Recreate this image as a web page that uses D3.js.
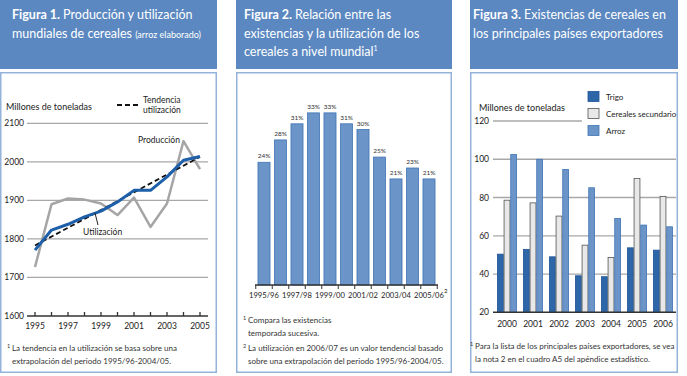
<!DOCTYPE html>
<html><head><meta charset="utf-8">
<script src="https://cdn.jsdelivr.net/npm/d3@7"></script>
<style>
body{margin:0;background:#fff;}
svg text{font-family:Lato,"Noto Sans",sans-serif;}
</style></head>
<body>
<svg id="c" width="687" height="376"></svg>
<script>
// ---------- DATA ----------
const years1 = [1995,1996,1997,1998,1999,2000,2001,2002,2003,2004,2005];
const produccion = [1727,1890,1905,1902,1892,1862,1907,1831,1892,2054,1981];
const utilizacion = [1771,1823,1838,1857,1872,1896,1926,1926,1961,2004,2014];
const trendYears = [1995,2005];
const trendValues = [1783,2013];
const yTicks1 = [1600,1700,1800,1900,2000,2100];
const xTickLabels1 = [1995,1997,1999,2001,2003,2005];

const seasons = ["1995/96","1996/97","1997/98","1998/99","1999/00","2000/01","2001/02","2002/03","2003/04","2004/05","2005/06"];
const ratioValues = [23.6,27.9,31.0,33.1,33.1,31.0,29.9,24.6,20.4,22.5,20.4];
const ratioLabels = ["24%","28%","31%","33%","33%","31%","30%","25%","21%","23%","21%"];
const seasonTickLabels = ["1995/96","1997/98","1999/00","2001/02","2003/04","2005/06"];

const years3 = ["2000","2001","2002","2003","2004","2005","2006"];
const seriesNames = ["Trigo","Cereales secundario","Arroz"];
const trigo = [50.4,52.9,49.0,39.1,38.6,53.7,52.5];
const cerealesSec = [78.6,77.2,70.3,55.1,48.7,90.0,80.6];
const arroz = [102.5,100.0,94.7,85.1,69.1,65.6,64.7];
const yTicks3 = [20,40,60,80,100,120];

// ---------- STYLE ----------
const HEAD = "#5b88c1", BORDER = "#93b3db";
const svg = d3.select("#c");

function panel(x, w){
  svg.append("rect").attr("x",x).attr("y",0).attr("width",w).attr("height",69).attr("fill",HEAD);
  svg.append("rect").attr("x",x+0.75).attr("y",72.75).attr("width",w-1.5).attr("height",299.5)
    .attr("fill","#fff").attr("stroke",BORDER).attr("stroke-width",1.5);
}
panel(0,217); panel(236,216); panel(470,208);

function header(x, lines){
  lines.forEach((ln,i)=>{
    const t = svg.append("text").attr("x",x).attr("y",19+i*18.5).attr("fill","#fff").attr("font-size",12.5);
    ln.forEach(seg=>{
      const s = t.append("tspan").text(seg.t);
      if(seg.b) s.attr("font-weight","bold");
      if(seg.s) s.attr("font-size",seg.s);
      if(seg.sup) s.attr("font-size",7).attr("dy",-5);
    });
  });
}
header(12,[[{t:"Figura 1. ",b:1},{t:"Producción y utilización"}],[{t:"mundiales de cereales "},{t:"(arroz elaborado)",s:9}]]);
header(244,[[{t:"Figura 2. ",b:1},{t:"Relación entre las"}],[{t:"existencias y la utilización de los"}],[{t:"cereales a nivel mundial"},{t:"1",sup:1}]]);
header(473,[[{t:"Figura 3. ",b:1},{t:"Existencias de cereales en"}],[{t:"los principales países exportadores"}]]);

function foot(x, y, lines, supText){
  lines.forEach((ln,i)=>{
    svg.append("text").attr("x",x).attr("y",y+i*12.5).attr("font-size",8).attr("fill","#333").text(ln);
  });
  if(supText) svg.append("text").attr("x",x-5).attr("y",y-3).attr("font-size",5.5).attr("fill","#333").text(supText);
}

// ---------- PANEL 1 ----------
{
  const x = d3.scaleLinear().domain([1995,2005]).range([35,200]);
  const y = d3.scaleLinear().domain([1600,2100]).range([316,123.3]);
  const g = svg.append("g");
  g.selectAll(".grid").data(yTicks1.filter(d=>d>1600)).join("line")
    .attr("x1",27).attr("x2",208).attr("y1",d=>y(d)).attr("y2",d=>y(d))
    .attr("stroke","#a8a8a8").attr("stroke-width",1.3);
  g.append("line").attr("x1",27).attr("x2",208).attr("y1",y(1600)).attr("y2",y(1600)).attr("stroke","#333").attr("stroke-width",1.5);
  g.selectAll(".tk").data(years1).join("line")
    .attr("x1",d=>x(d)).attr("x2",d=>x(d)).attr("y1",y(1600)).attr("y2",y(1600)-4).attr("stroke","#333").attr("stroke-width",1.3);
  g.selectAll(".yl").data(yTicks1).join("text")
    .attr("x",24).attr("y",d=>y(d)+3).attr("text-anchor","end").attr("font-size",8.5).attr("fill","#222").text(d=>d);
  g.selectAll(".xl").data(xTickLabels1).join("text")
    .attr("x",d=>x(d)).attr("y",329).attr("text-anchor","middle").attr("font-size",8.5).attr("fill","#222").text(d=>d);
  g.append("text").attr("x",6).attr("y",110).attr("font-size",9).attr("fill","#222").text("Millones de toneladas");
  const line = d3.line().x(d=>x(d[0])).y(d=>y(d[1]));
  g.append("path").attr("d",line(d3.zip(years1,produccion))).attr("fill","none").attr("stroke","#a5a5a5").attr("stroke-width",2.5).attr("stroke-linejoin","round");
  g.append("path").attr("d",line(d3.zip(trendYears,trendValues))).attr("fill","none").attr("stroke","#111").attr("stroke-width",1.8).attr("stroke-dasharray","5,3");
  g.append("path").attr("d",line(d3.zip(years1,utilizacion))).attr("fill","none").attr("stroke","#1d5fa9").attr("stroke-width",3).attr("stroke-linejoin","round");
  // legend
  g.append("line").attr("x1",117).attr("x2",139).attr("y1",105).attr("y2",105).attr("stroke","#111").attr("stroke-width",2).attr("stroke-dasharray","5,3");
  g.append("text").attr("x",143).attr("y",103).attr("font-size",8.5).attr("fill","#222").text("Tendencia");
  g.append("text").attr("x",143).attr("y",113).attr("font-size",8.5).attr("fill","#222").text("utilización");
  g.append("text").attr("x",138).attr("y",143).attr("font-size",8.5).attr("fill","#222").text("Producción");
  g.append("text").attr("x",83).attr("y",235).attr("font-size",8.5).attr("fill","#222").text("Utilización");
  g.append("line").attr("x1",95).attr("y1",213).attr("x2",98).attr("y2",225).attr("stroke","#222").attr("stroke-width",1);
  foot(12,351,["La tendencia en la utilización se basa sobre una","extrapolación del periodo 1995/96-2004/05."],"1");
}

// ---------- PANEL 2 ----------
{
  const x = d3.scaleBand().domain(seasons).range([255.75,437.25]).padding(0);
  const y = d3.scaleLinear().domain([0,35]).range([285,103]);
  const bw = x.bandwidth()*0.73;
  const g = svg.append("g");
  g.selectAll("rect.b").data(seasons).join("rect")
    .attr("x",(d)=>x(d)+(x.bandwidth()-bw)/2).attr("width",bw)
    .attr("y",(d,i)=>y(ratioValues[i])).attr("height",(d,i)=>y(0)-y(ratioValues[i]))
    .attr("fill","#6b95c9").attr("stroke","#3f74b5").attr("stroke-width",0.8);
  g.selectAll("text.v").data(seasons).join("text")
    .attr("x",d=>x(d)+x.bandwidth()/2).attr("y",(d,i)=>y(ratioValues[i])-4)
    .attr("text-anchor","middle").attr("font-size",6.5).attr("fill","#333").text((d,i)=>ratioLabels[i]);
  g.append("line").attr("x1",255).attr("x2",438).attr("y1",y(0)).attr("y2",y(0)).attr("stroke","#333").attr("stroke-width",1.3);
  const bounds = seasons.map(d=>x(d)).concat([x(seasons[seasons.length-1])+x.bandwidth()]);
  g.selectAll("line.t").data(bounds).join("line")
    .attr("x1",d=>d).attr("x2",d=>d).attr("y1",y(0)).attr("y2",y(0)+4).attr("stroke","#333").attr("stroke-width",1);
  g.selectAll("text.xl").data(seasonTickLabels).join("text")
    .attr("x",d=>x(d)+x.bandwidth()/2).attr("y",298).attr("text-anchor","middle").attr("font-size",7.6).attr("fill","#222").text(d=>d);
  g.append("text").attr("x",x("2005/06")+x.bandwidth()/2+15).attr("y",293).attr("font-size",6).attr("fill","#222").text("2");
  foot(248,323,["Compara las existencias","temporada sucesiva."],"1");
  foot(248,351,["La utilización en 2006/07 es un valor tendencial basado","sobre una extrapolación del periodo 1995/96-2004/05."],"2");
}

// ---------- PANEL 3 ----------
{
  const x0 = d3.scaleBand().domain(years3).range([494,676]).padding(0);
  const x1 = d3.scaleBand().domain(seriesNames).range([3,23]).padding(0);
  const y = d3.scaleLinear().domain([20,120]).range([312.3,121]);
  const series = [trigo,cerealesSec,arroz];
  const fills = ["#2e66aa","#e8e8e8","#6b95c9"];
  const strokes = ["#1f5495","#555","#3f74b5"];
  const g = svg.append("g");
  g.selectAll("line.grid").data(yTicks3.filter(d=>d>20)).join("line")
    .attr("x1",493).attr("x2",d=>d===120?582:676).attr("y1",d=>y(d)).attr("y2",d=>y(d))
    .attr("stroke","#a8a8a8").attr("stroke-width",1.3);
  g.selectAll("text.yl").data(yTicks3).join("text")
    .attr("x",489).attr("y",d=>y(d)+3).attr("text-anchor","end").attr("font-size",8.5).attr("fill","#222").text(d=>d);
  g.append("text").attr("x",479).attr("y",111).attr("font-size",9).attr("fill","#222").text("Millones de toneladas");
  seriesNames.forEach((s,si)=>{
    g.selectAll("rect.s"+si).data(years3).join("rect")
      .attr("x",d=>x0(d)+x1(s)+0.4).attr("width",x1.bandwidth()-0.8)
      .attr("y",(d,i)=>y(series[si][i])).attr("height",(d,i)=>y(20)-y(series[si][i]))
      .attr("fill",fills[si]).attr("stroke",strokes[si]).attr("stroke-width",0.8);
  });
  g.append("line").attr("x1",493).attr("x2",676).attr("y1",y(20)).attr("y2",y(20)).attr("stroke","#333").attr("stroke-width",1.5);
  g.selectAll("text.xl").data(years3).join("text")
    .attr("x",d=>x0(d)+13).attr("y",327).attr("text-anchor","middle").attr("font-size",8.5).attr("fill","#222").text(d=>d);
  // legend
  seriesNames.forEach((s,si)=>{
    g.append("rect").attr("x",588).attr("y",91.5+si*17).attr("width",11).attr("height",10)
      .attr("fill",fills[si]).attr("stroke",strokes[si]).attr("stroke-width",0.8);
    g.append("text").attr("x",606).attr("y",99.5+si*17).attr("font-size",8).attr("fill","#222").text(s);
  });
  foot(475,349,["Para la lista de los principales países exportadores, se vea","la nota 2 en el cuadro A5 del apéndice estadístico."],"1");
}
</script>
</body></html>
